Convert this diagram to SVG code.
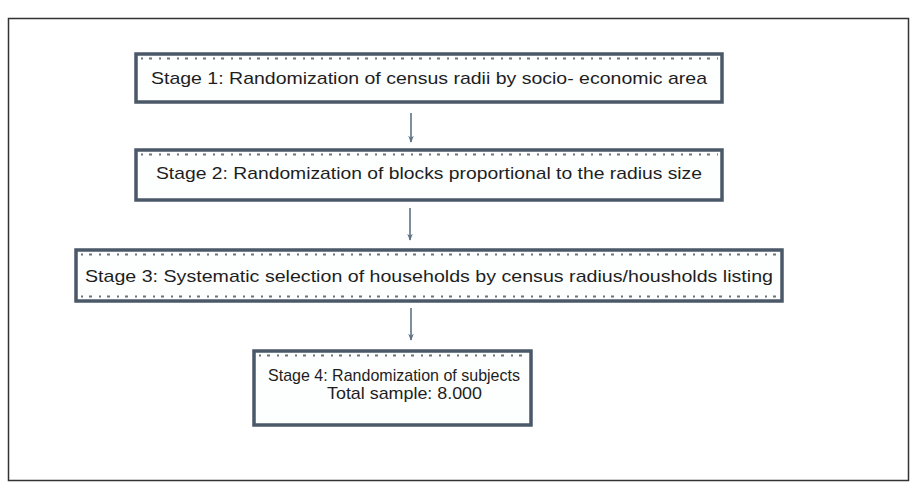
<svg xmlns="http://www.w3.org/2000/svg" width="915" height="487" viewBox="0 0 915 487">
<style>
.frame{fill:#ffffff;stroke:#333333;stroke-width:1.5}
.box{fill:#fdfefe;stroke:#4a5868;stroke-width:3.5}
.dots{stroke:#6a7480;stroke-width:2;stroke-dasharray:2 6 3 7;fill:none}
.t{font-family:"Liberation Sans",Arial,sans-serif;font-size:17px;fill:#1e1e1e}
.conn{stroke:#5d7285;stroke-width:1.6;fill:none}
</style>
<defs>
<marker id="ah" viewBox="0 0 10 10" refX="9" refY="5" markerWidth="7" markerHeight="7" orient="auto" markerUnits="userSpaceOnUse">
<path d="M0,1 L10,5 L0,9 L3,5 z" fill="#5d7285"/>
</marker>
</defs>
<rect class="frame" x="8.5" y="18.5" width="900" height="462"/>
<g id="stage1">
<rect class="box" x="136" y="54" width="586" height="48"/>
<line class="dots" x1="141" y1="58.5" x2="718" y2="58.5"/>
<text class="t" x="429" y="84" text-anchor="middle" textLength="556" lengthAdjust="spacingAndGlyphs">Stage 1: Randomization of census radii by socio- economic area</text>
</g>
<g id="stage2">
<rect class="box" x="136" y="150" width="586" height="50"/>
<line class="dots" x1="141" y1="154.5" x2="718" y2="154.5"/>
<text class="t" x="429" y="179" text-anchor="middle" textLength="546" lengthAdjust="spacingAndGlyphs">Stage 2: Randomization of  blocks proportional to the radius size</text>
</g>
<g id="stage3">
<rect class="box" x="76" y="250" width="706" height="51"/>
<line class="dots" x1="81" y1="254.5" x2="778" y2="254.5"/>
<line class="dots" x1="81" y1="296.5" x2="778" y2="296.5"/>
<text class="t" x="429" y="282" text-anchor="middle" textLength="688" lengthAdjust="spacingAndGlyphs">Stage 3:  Systematic selection of households by census radius/housholds listing</text>
</g>
<g id="stage4">
<rect class="box" x="254" y="351" width="277" height="74"/>
<line class="dots" x1="259" y1="355.5" x2="527" y2="355.5"/>
<text class="t" x="268" y="381" textLength="252" lengthAdjust="spacingAndGlyphs">Stage 4: Randomization of subjects</text>
<text class="t" x="327" y="399" textLength="155" lengthAdjust="spacingAndGlyphs">Total sample: 8.000</text>
</g>
<g id="connectors">
<line class="conn" x1="411" y1="113" x2="411" y2="142" marker-end="url(#ah)"/>
<line class="conn" x1="410" y1="208" x2="410" y2="240" marker-end="url(#ah)"/>
<line class="conn" x1="411" y1="308" x2="411" y2="340" marker-end="url(#ah)"/>
</g>
</svg>
